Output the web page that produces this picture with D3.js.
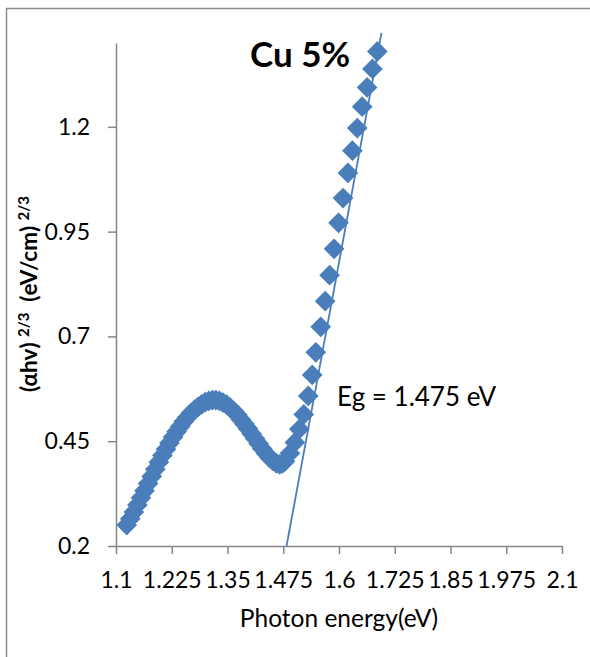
<!DOCTYPE html>
<html>
<head>
<meta charset="utf-8">
<script src="https://cdn.jsdelivr.net/npm/d3@7"></script>
<style>
  html, body { margin: 0; padding: 0; background: #fff; }
  svg { display: block; font-family: Lato, "Open Sans", sans-serif; }
</style>
</head>
<body>
<div id="chart"></div>
<script>
// photon energy (eV) and (alpha h nu)^(2/3)
var energy = [
  1.124, 1.132, 1.140, 1.148, 1.156, 1.164, 1.172, 1.180, 1.188, 1.196,
  1.204, 1.212, 1.220, 1.228, 1.236, 1.244, 1.252, 1.260, 1.268, 1.276,
  1.284, 1.292, 1.300, 1.308, 1.316, 1.324, 1.332, 1.340, 1.348, 1.356,
  1.364, 1.372, 1.380, 1.388, 1.396, 1.404, 1.412, 1.420, 1.428, 1.436,
  1.444, 1.452, 1.460, 1.467, 1.473, 1.479, 1.490, 1.501, 1.511, 1.521,
  1.531, 1.540, 1.548, 1.559, 1.569, 1.579, 1.589, 1.599, 1.609, 1.620,
  1.630, 1.641, 1.652, 1.663, 1.675, 1.686
];
var absorb = [
  0.250, 0.265, 0.281, 0.298, 0.315, 0.332, 0.349, 0.366, 0.383, 0.400,
  0.416, 0.431, 0.446, 0.460, 0.473, 0.485, 0.497, 0.507, 0.517, 0.525,
  0.532, 0.538, 0.543, 0.546, 0.548, 0.548, 0.546, 0.542, 0.537, 0.530,
  0.522, 0.513, 0.502, 0.491, 0.480, 0.468, 0.456, 0.444, 0.432, 0.421,
  0.411, 0.403, 0.397, 0.395, 0.397, 0.402, 0.421, 0.447, 0.479, 0.514,
  0.558, 0.608, 0.662, 0.723, 0.784, 0.846, 0.909, 0.971, 1.030, 1.090,
  1.143, 1.197, 1.248, 1.294, 1.338, 1.380
];
// linear fit drawn through the steep part
var fitX = [1.4824, 1.6952];
var fitY = [0.2, 1.4243];

var xTicks = [1.1, 1.225, 1.35, 1.475, 1.6, 1.725, 1.85, 1.975, 2.1];
var xTickLabels = ["1.1", "1.225", "1.35", "1.475", "1.6", "1.725", "1.85", "1.975", "2.1"];
var yTicks = [0.2, 0.45, 0.7, 0.95, 1.2];
var yTickLabels = ["0.2", "0.45", "0.7", "0.95", "1.2"];

var width = 590, height = 657;
var blue = "#4a7ebb", grey = "#868686";

var svg = d3.select("#chart").append("svg")
  .attr("width", width)
  .attr("height", height);

// chart frame (left + top edges are visible)
svg.append("path")
  .attr("d", "M6.5," + height + "V8.5H" + width)
  .attr("fill", "none")
  .attr("stroke", "#8c8c8c")
  .attr("stroke-width", 1.5);

var x = d3.scaleLinear().domain([1.1, 2.1]).range([116, 562]);
var y = d3.scaleLinear().domain([0.2, 1.4]).range([546, 43]);

var xAxis = d3.axisBottom(x)
  .tickValues(xTicks)
  .tickFormat(function(d, i) { return xTickLabels[i]; })
  .tickSize(8)
  .tickSizeOuter(0)
  .tickPadding(18);

var yAxis = d3.axisLeft(y)
  .tickValues(yTicks)
  .tickFormat(function(d, i) { return yTickLabels[i]; })
  .tickSize(8)
  .tickSizeOuter(0)
  .tickPadding(18);

var gx = svg.append("g").attr("transform", "translate(0,546)").call(xAxis);
var gy = svg.append("g").attr("transform", "translate(116,0)").call(yAxis);

[gx, gy].forEach(function(g) {
  g.select(".domain").attr("stroke", grey).attr("stroke-width", 1.5);
  g.selectAll(".tick line").attr("stroke", grey).attr("stroke-width", 1.5);
  g.selectAll(".tick text")
    .attr("fill", "#000")
    .style("font-size", "23px")
    .style("font-family", "Lato, sans-serif");
});

// markers
var diamond = d3.symbol().type(d3.symbolSquare).size(215);
svg.append("g").selectAll("path")
  .data(energy)
  .enter().append("path")
  .attr("d", diamond)
  .attr("transform", function(d, i) {
    return "translate(" + x(d) + "," + y(absorb[i]) + ") rotate(45)";
  })
  .attr("fill", blue);

// fit line on top of the markers
svg.append("line")
  .attr("x1", x(fitX[0])).attr("y1", y(fitY[0]))
  .attr("x2", x(fitX[1])).attr("y2", y(fitY[1]))
  .attr("stroke", blue)
  .attr("stroke-width", 1.8);

// texts
svg.append("text")
  .attr("x", 250).attr("y", 67)
  .style("font-size", "35px")
  .style("font-weight", "bold")
  .text("Cu 5%");

svg.append("text")
  .attr("x", 337).attr("y", 406)
  .style("font-size", "26px")
  .text("Eg = 1.475 eV");

svg.append("text")
  .attr("x", 339).attr("y", 627)
  .attr("text-anchor", "middle")
  .style("font-size", "24.5px")
  .text("Photon energy(eV)");

var yt = svg.append("text")
  .attr("transform", "translate(37,294) rotate(-90)")
  .attr("text-anchor", "middle")
  .style("font-size", "22.5px")
  .style("font-weight", "bold");
yt.append("tspan").text("(\u03b1hv) ");
yt.append("tspan").attr("dy", -8).style("font-size", "15px").text("2/3");
yt.append("tspan").attr("dy", 8).text("\u00a0\u00a0(eV/cm) ");
yt.append("tspan").attr("dy", -8).style("font-size", "15px").text("2/3");
</script>
</body>
</html>
